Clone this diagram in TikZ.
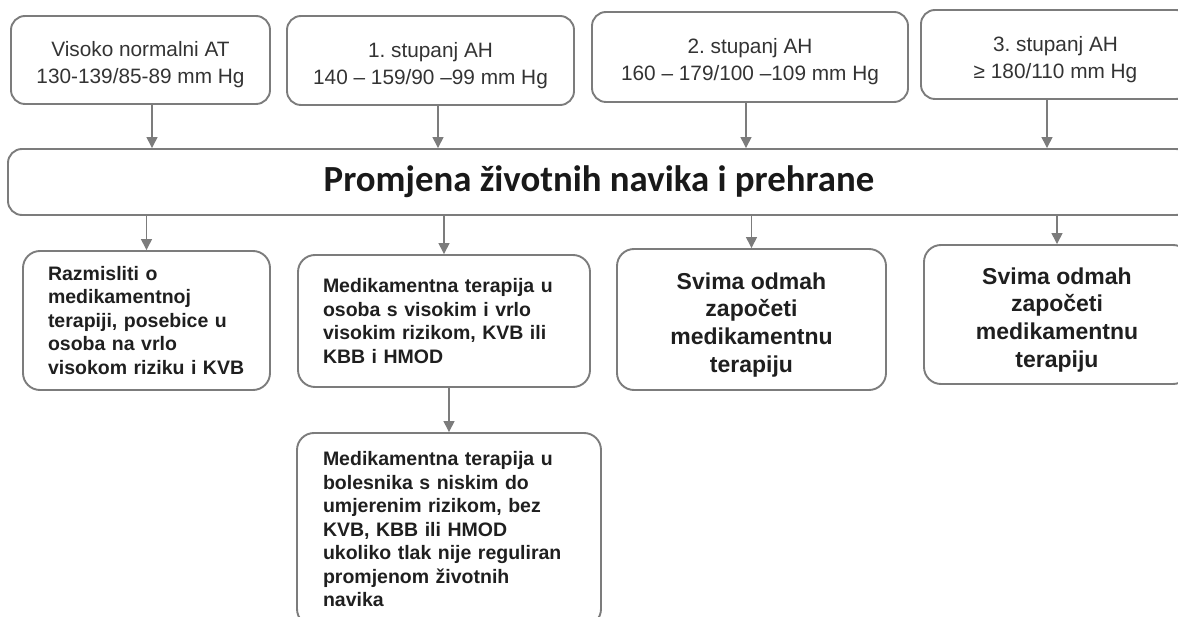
\documentclass[tikz,border=0pt]{standalone}
\usepackage{fontspec}
\setmainfont{Liberation Sans}
\newfontfamily\headfont{Carlito}
\usetikzlibrary{arrows.meta,positioning}
\frenchspacing
\newcommand\lowtext[1]{\rule{0pt}{#1}}
\definecolor{boxgray}{HTML}{7C7C7C}
\definecolor{txtgray}{HTML}{333333}
\tikzset{band node/.style={rectangle,rounded corners=14pt,draw=boxgray,line width=1.9pt,inner sep=0pt,text=black!90,font=\headfont\bfseries\fontsize{36.8}{40}\selectfont},
         grade node/.style={band node,align=center,text=txtgray,font=\fontsize{20.8}{27}\selectfont},
         advice node/.style={rectangle,rounded corners=17pt,draw=boxgray,line width=1.9pt,align=left,text=black!88,inner sep=0pt,font=\bfseries\fontsize{19.5}{23.5}\selectfont},
         start node/.style={advice node,align=center,font=\bfseries\fontsize{23}{27.7}\selectfont},
         flow/.style={draw=boxgray,line width=1.4pt,-{Triangle[width=11pt,length=11pt]}}
}
\begin{document}
\begin{tikzpicture}[x=1pt,y=-1pt]
% \draw[help lines,step=50] (0,0) grid (1178,617);
\useasboundingbox (0,0) rectangle (1178,617);
\clip (0,0) rectangle (1178,617);
\node[grade node,minimum width=259,minimum height=88] (g1) at (140.5,60) {\lowtext{25pt}Visoko normalni AT\\130-139/85-89 mm Hg};
\node[grade node,minimum width=287,minimum height=89] (g2) at (430.5,60.5) {\lowtext{25pt}1. stupanj AH\\140 – 159/90 –99 mm Hg};
\node[grade node,minimum width=316,minimum height=90] (g3) at (750,57) {\lowtext{25pt}2. stupanj AH\\160 – 179/100 –109 mm Hg};
\node[grade node,minimum width=269,minimum height=89] (g4) at (1055.5,54.5) {\lowtext{25pt}3. stupanj AH\\≥ 180/110 mm Hg};

\node[band node,minimum width=1182,minimum height=66] (life) at (599,182) {Promjena životnih navika i prehrane};

\node[advice node,text width=197,minimum width=247,minimum height=139] (t1) at (146.5,320.5) {Razmisliti o\\medikamentnoj\\terapiji, posebice u\\osoba na vrlo\\visokom riziku i KVB};
\node[advice node,text width=242,minimum width=292,minimum height=132] (t2) at (444,321) {Medikamentna terapija u\\osoba s visokim i vrlo\\visokim rizikom, KVB ili\\KBB i HMOD};
\node[start node,minimum width=269,minimum height=141] (t3) at (751.5,319.5) {\lowtext{27pt}Svima odmah\\započeti\\medikamentnu\\terapiju};
\node[start node,minimum width=266,minimum height=139] (t5) at (1057,314.5) {\lowtext{27pt}Svima odmah\\započeti\\medikamentnu\\terapiju};
\node[advice node,text width=252,minimum width=304,minimum height=193] (t4) at (449,529.5) {Medikamentna terapija u\\bolesnika s niskim do\\umjerenim rizikom, bez\\KVB, KBB ili HMOD\\ukoliko tlak nije reguliran\\promjenom životnih\\navika};

\draw[flow] ([xshift=11.5]g1.south) -- ([xshift=11.5]g1.south |- life.north);
\draw[flow] ([xshift=7.5]g2.south) -- ([xshift=7.5]g2.south |- life.north);
\draw[flow] ([xshift=-4]g3.south) -- ([xshift=-4]g3.south |- life.north);
\draw[flow] ([xshift=-8.5]g4.south) -- ([xshift=-8.5]g4.south |- life.north);

\draw[flow] (t1.north |- life.south) -- (t1.north);
\draw[flow] (t2.north |- life.south) -- (t2.north);
\draw[flow] (t3.north |- life.south) -- (t3.north);
\draw[flow] (t5.north |- life.south) -- (t5.north);
\draw[flow] (t4.north |- t2.south) -- (t4.north);
\end{tikzpicture}
\end{document}
